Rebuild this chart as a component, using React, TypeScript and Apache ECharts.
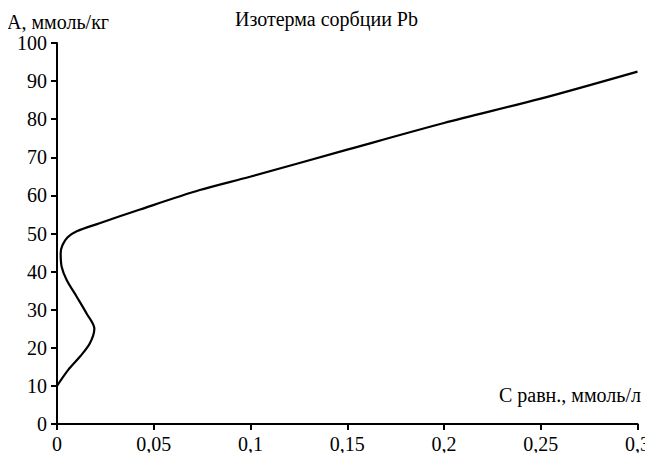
import React, { useEffect, useRef } from "react";
import * as echarts from "echarts";

const titleText = "Изотерма сорбции Pb";
const xName = "С равн., ммоль/л";
const yName = "А, ммоль/кг";

// Equilibrium concentration C (mmol/L) and sorption A (mmol/kg)
const cValues = [0, 0.0058, 0.0119, 0.017, 0.0193, 0.0153, 0.0102, 0.005, 0.0024, 0.0019, 0.0028, 0.0055, 0.0102, 0.022, 0.0429, 0.0738, 0.0997, 0.15, 0.2, 0.25, 0.3];
const aValues = [10, 14.2, 17.7, 21.2, 25, 29, 33.4, 37.8, 41.3, 44.8, 46.9, 49.0, 50.6, 52.7, 56.3, 61.4, 64.9, 72.0, 79.0, 85.4, 92.5];

const xTicks = [0, 0.05, 0.1, 0.15, 0.2, 0.25, 0.3];
const yTicks = [0, 10, 20, 30, 40, 50, 60, 70, 80, 90, 100];

const FONT = "Liberation Serif";

export default function App() {
  const ref = useRef<HTMLDivElement>(null);
  useEffect(() => {
    if (!ref.current) return;
    const chart = echarts.init(ref.current, null, { renderer: "svg" });
    const data = cValues.map((c, i) => [c, aValues[i]]);
    chart.setOption({
      animation: false,
      backgroundColor: "#ffffff",
      textStyle: { fontFamily: FONT, color: "#000" },
      title: {
        text: titleText,
        left: "center",
        top: 4,
        textStyle: { fontFamily: FONT, fontSize: 20, fontWeight: "normal", color: "#000" },
      },
      grid: { left: 57, right: 15, top: 43, bottom: 37 },
      xAxis: {
        type: "value",
        min: xTicks[0],
        max: xTicks[xTicks.length - 1],
        interval: 0.05,
        axisLine: { lineStyle: { color: "#000", width: 2 } },
        axisTick: { show: true, inside: false, length: 6, lineStyle: { color: "#000", width: 2 } },
        splitLine: { show: false },
        axisLabel: {
          margin: 10,
          fontFamily: FONT,
          fontSize: 20,
          color: "#000",
          formatter: (v: number) => String(parseFloat(v.toFixed(3))).replace(".", ","),
        },
      },
      yAxis: {
        type: "value",
        min: yTicks[0],
        max: yTicks[yTicks.length - 1],
        interval: 10,
        axisLine: { show: true, lineStyle: { color: "#000", width: 2 } },
        axisTick: { show: true, inside: false, length: 6, lineStyle: { color: "#000", width: 2 } },
        splitLine: { show: false },
        axisLabel: { margin: 10, fontFamily: FONT, fontSize: 20, color: "#000" },
      },
      graphic: [
        {
          type: "text",
          left: 7,
          top: 12,
          style: { text: yName, fontFamily: FONT, fontSize: 20, fill: "#000" },
        },
        {
          type: "text",
          right: 12,
          top: 385,
          style: { text: xName, fontFamily: FONT, fontSize: 20, fill: "#000" },
        },
      ],
      series: [
        {
          type: "line",
          data,
          smooth: 0.3,
          showSymbol: false,
          symbol: "none",
          lineStyle: { color: "#000", width: 2.2 },
        },
      ],
    });
    return () => chart.dispose();
  }, []);
  return <div ref={ref} style={{ width: 653, height: 461, margin: -8 }} />;
}
